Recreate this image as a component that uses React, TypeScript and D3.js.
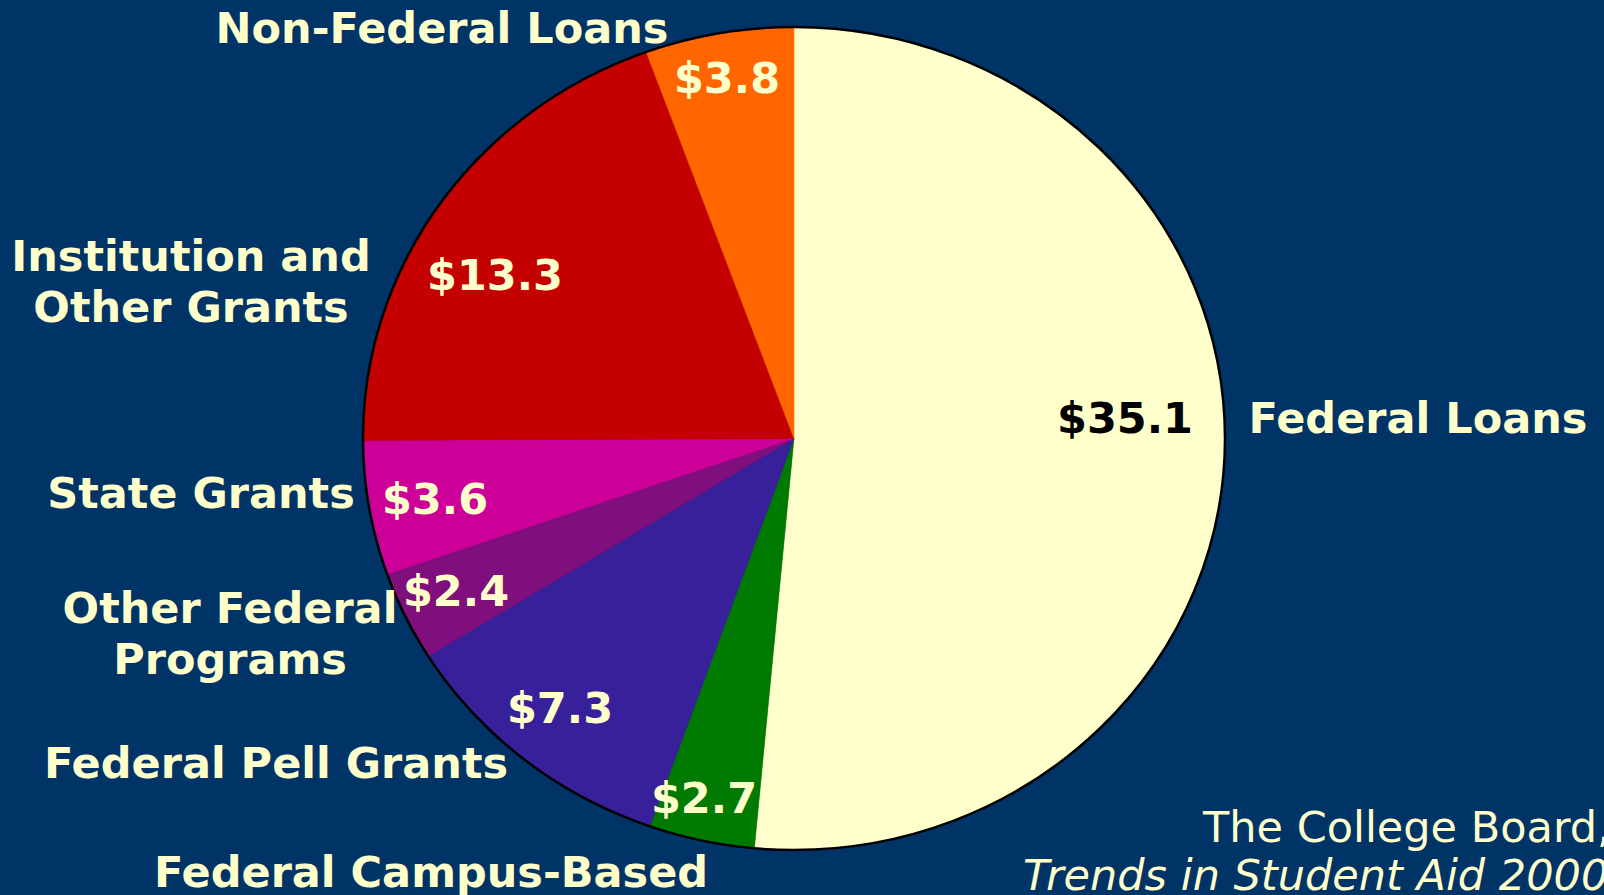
import React, {useRef, useEffect} from 'react';
import * as d3 from 'd3';

const categories = ['Federal Loans', 'Federal Campus-Based', 'Federal Pell Grants', 'Other Federal Programs', 'State Grants', 'Institution and Other Grants', 'Non-Federal Loans'];
const values = [35.1, 2.7, 7.3, 2.4, 3.6, 13.3, 3.8];
const valueLabels = ['$35.1', '$2.7', '$7.3', '$2.4', '$3.6', '$13.3', '$3.8'];
const sliceColours = ['#FFFFCC', '#007A00', '#38209B', '#7F0F7C', '#CC0099', '#C40000', '#FF6600'];

// category labels are split onto lines as in the slide
const nameLines = [['Federal Loans'], ['Federal Campus-Based'], ['Federal Pell Grants'], ['Other Federal', 'Programs'], ['State Grants'], ['Institution and', 'Other Grants'], ['Non-Federal Loans']];

const width = 1604;
const height = 895;
const cx = 794;
const cy = 438.5;
const rx = 431;
const ry = 411.5;

const bg = '#003366';
const cream = '#FFFFCC';
const boldFont = 'DejaVu Sans, Verdana, sans-serif';
const fontSize = 43;

// hand placed label spots (centre x, baseline y)
const namePos = [[1418, 433], [431, 887], [276, 778], [230, 623], [201, 508], [191, 271], [442, 43]];
const nameGap = 51;
const valuePos = [[1125, 433], [704, 813], [560, 723], [456, 606], [435, 514], [495, 290], [727, 93]];

function App(){
  const canvas = useRef(null);

  useEffect(() => {
    const svg = d3.select(canvas.current);
    svg.selectAll('*').remove();

    svg.append('rect')
      .attr('width', width)
      .attr('height', height)
      .attr('fill', bg);

    const pie = d3.pie().sort(null).value(d => d);
    const arc = d3.arc().innerRadius(0).outerRadius(rx);

    const g = svg.append('g')
      .attr('transform', `translate(${cx}, ${cy}) scale(1, ${ry / rx})`);

    g.selectAll('path')
      .data(pie(values))
      .enter()
        .append('path')
          .attr('d', arc)
          .attr('fill', (d, i) => sliceColours[i])
          .attr('stroke', (d, i) => sliceColours[i])
          .attr('stroke-width', 0.5);

    svg.append('ellipse')
      .attr('cx', cx)
      .attr('cy', cy)
      .attr('rx', rx)
      .attr('ry', ry)
      .attr('fill', 'none')
      .attr('stroke', '#000')
      .attr('stroke-width', 2.5);

    // value labels
    svg.selectAll('text.value')
      .data(valueLabels)
      .enter()
        .append('text')
          .attr('class', 'value')
          .attr('x', (d, i) => valuePos[i][0])
          .attr('y', (d, i) => valuePos[i][1])
          .attr('text-anchor', 'middle')
          .attr('font-family', boldFont)
          .attr('font-weight', 'bold')
          .attr('font-size', fontSize)
          .attr('fill', (d, i) => i === 0 ? '#000' : cream)
          .text(d => d);

    // category labels
    categories.forEach((c, i) => {
      const t = svg.append('text')
        .attr('text-anchor', 'middle')
        .attr('font-family', boldFont)
        .attr('font-weight', 'bold')
        .attr('font-size', fontSize)
        .attr('fill', cream);
      nameLines[i].forEach((line, j) => {
        t.append('tspan')
          .attr('x', namePos[i][0])
          .attr('y', namePos[i][1] + j * nameGap)
          .text(line);
      });
    });

    // source
    svg.append('text')
      .attr('x', 1203)
      .attr('y', 842)
      .attr('font-family', boldFont)
      .attr('font-size', fontSize)
      .attr('fill', cream)
      .text('The College Board,');
    svg.append('text')
      .attr('x', 1023)
      .attr('y', 890)
      .attr('font-family', boldFont)
      .attr('font-style', 'italic')
      .attr('font-size', fontSize)
      .attr('fill', cream)
      .text('Trends in Student Aid 2000');
  }, []);

  return <svg ref={canvas} width={width} height={height}
    style={{position: 'absolute', left: 0, top: 0, display: 'block'}} />;
}

export default App;
